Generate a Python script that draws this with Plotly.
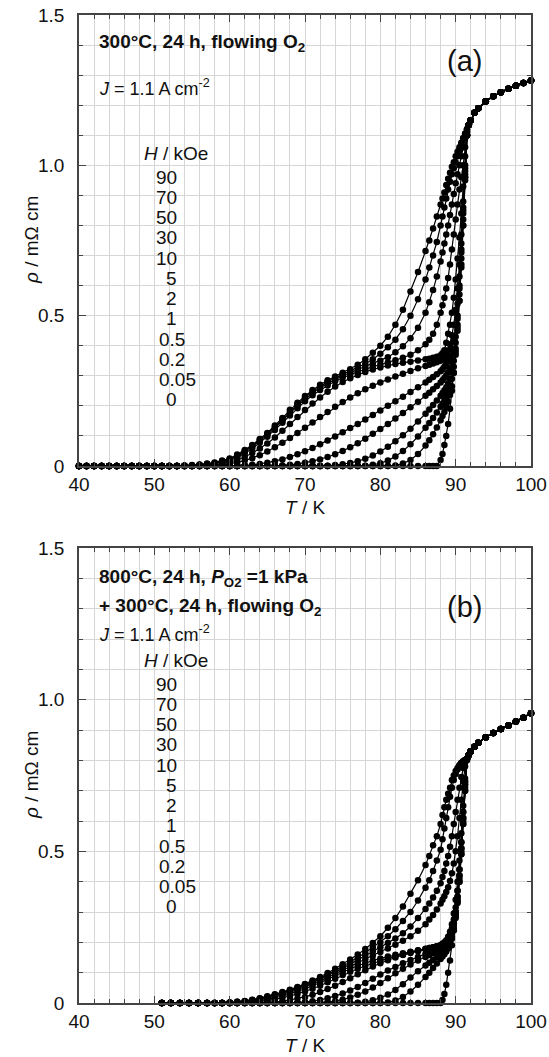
import plotly.graph_objects as go

# ---------------- data: panel (a) ----------------
T_a = [40,41,42,43,44,45,46,47,48,49,50,51,52,53,54,55,56,57,58,
       59,60,61,62,63,64,65,66,67,68,69,70,
       71,72,73,74,75,76,77,78,79,80,
       81,82,83,84,85,86,
       86.5,87,87.5,
       88,88.25,88.5,88.75,89,89.25,89.5,89.75,
       90,90.25,90.5,90.75,91,91.25,91.5]
Tn_a = [91.75,92,92.5,93,94,95,96,97,98,99,100]
rn_a = [1.135,1.15,1.175,1.19,1.213,1.23,1.243,1.255,1.265,1.274,1.282]

a_90 = [0,0,0,0,0,0,0,0,0,0,0,0,0,0,0.002,0.003,0.005,0.008,0.012,
        0.018,0.025,0.038,0.053,0.07,0.09,0.11,0.135,0.16,0.187,0.21,0.233,
        0.253,0.27,0.285,0.298,0.31,0.322,0.337,0.355,0.377,0.40,
        0.43,0.47,0.52,0.58,0.645,0.715,
        0.75,0.79,0.83,
        0.87,0.89,0.91,0.935,0.955,0.975,0.995,1.01,
        1.03,1.045,1.06,1.075,1.09,1.105,1.12]
a_70 = [0,0,0,0,0,0,0,0,0,0,0,0,0,0,0.001,0.002,0.004,0.007,0.01,
        0.016,0.023,0.035,0.05,0.067,0.087,0.107,0.13,0.155,0.18,0.205,0.228,
        0.248,0.265,0.28,0.293,0.305,0.316,0.328,0.34,0.355,0.373,
        0.395,0.42,0.455,0.5,0.555,0.62,
        0.66,0.70,0.745,
        0.80,0.83,0.86,0.89,0.92,0.945,0.97,0.99,
        1.01,1.03,1.05,1.07,1.09,1.105,1.12]
a_50 = [0,0,0,0,0,0,0,0,0,0,0,0,0,0,0.001,0.002,0.003,0.006,0.009,
        0.014,0.021,0.032,0.047,0.064,0.083,0.103,0.126,0.15,0.175,0.2,0.222,
        0.242,0.26,0.275,0.288,0.3,0.31,0.32,0.33,0.34,0.35,
        0.362,0.378,0.398,0.425,0.46,0.51,
        0.545,0.585,0.63,
        0.68,0.71,0.74,0.77,0.8,0.835,0.87,0.905,
        0.94,0.97,1.0,1.03,1.06,1.09,1.115]
a_30 = [0,0,0,0,0,0,0,0,0,0,0,0,0,0,0,0.001,0.002,0.004,0.007,
        0.012,0.018,0.028,0.042,0.058,0.077,0.097,0.12,0.144,0.168,0.192,0.215,
        0.235,0.253,0.268,0.282,0.294,0.304,0.313,0.322,0.33,0.337,
        0.344,0.352,0.36,0.37,0.385,0.405,
        0.42,0.44,0.47,
        0.51,0.535,0.56,0.59,0.625,0.67,0.72,0.77,
        0.82,0.87,0.92,0.96,1.0,1.06,1.11]
a_10 = [0,0,0,0,0,0,0,0,0,0,0,0,0,0,0,0,0.001,0.002,0.004,
        0.008,0.012,0.02,0.03,0.043,0.058,0.075,0.095,0.117,0.14,0.163,0.186,
        0.208,0.228,0.247,0.264,0.279,0.292,0.303,0.313,0.321,0.328,
        0.334,0.339,0.343,0.347,0.351,0.355,
        0.357,0.36,0.363,
        0.368,0.375,0.385,0.41,0.44,0.47,0.51,0.56,
        0.62,0.69,0.76,0.84,0.93,1.03,1.11]
a_5 = [0,0,0,0,0,0,0,0,0,0,0,0,0,0,0,0,0,0,0.002,
       0.004,0.007,0.012,0.018,0.026,0.036,0.048,0.062,0.077,0.093,0.11,0.127,
       0.145,0.163,0.18,0.197,0.213,0.228,0.242,0.255,0.267,0.278,
       0.288,0.298,0.307,0.316,0.325,0.333,
       0.337,0.341,0.345,
       0.35,0.355,0.36,0.37,0.385,0.405,0.435,0.47,
       0.52,0.59,0.67,0.77,0.88,1.0,1.1]
a_2 = [0,0,0,0,0,0,0,0,0,0,0,0,0,0,0,0,0,0,0,
       0,0,0,0.002,0.004,0.007,0.011,0.016,0.022,0.03,0.039,0.049,
       0.06,0.072,0.085,0.098,0.112,0.126,0.14,0.155,0.17,0.185,
       0.2,0.215,0.23,0.246,0.262,0.278,
       0.287,0.296,0.305,
       0.315,0.322,0.33,0.34,0.35,0.365,0.39,0.42,
       0.47,0.54,0.63,0.74,0.86,0.99,1.1]
a_1 = [0,0,0,0,0,0,0,0,0,0,0,0,0,0,0,0,0,0,0,
       0,0,0,0,0,0,0,0.001,0.002,0.004,0.007,0.011,
       0.016,0.022,0.03,0.039,0.05,0.062,0.076,0.091,0.107,0.123,
       0.14,0.158,0.176,0.195,0.214,0.234,
       0.244,0.255,0.266,
       0.278,0.285,0.293,0.302,0.312,0.325,0.345,0.375,
       0.43,0.5,0.6,0.72,0.85,0.98,1.1]
a_05 = [0,0,0,0,0,0,0,0,0,0,0,0,0,0,0,0,0,0,0,
        0,0,0,0,0,0,0,0,0,0,0,0,
        0,0,0.001,0.003,0.006,0.01,0.016,0.024,0.035,0.048,
        0.064,0.082,0.102,0.124,0.148,0.174,
        0.188,0.203,0.218,
        0.234,0.243,0.252,0.262,0.274,0.29,0.315,0.35,
        0.41,0.49,0.59,0.71,0.84,0.97,1.1]
a_02 = [0,0,0,0,0,0,0,0,0,0,0,0,0,0,0,0,0,0,0,
        0,0,0,0,0,0,0,0,0,0,0,0,
        0,0,0,0,0,0,0,0.001,0.004,0.009,
        0.018,0.032,0.05,0.072,0.098,0.127,
        0.143,0.16,0.178,
        0.197,0.207,0.218,0.23,0.244,0.262,0.29,0.33,
        0.39,0.47,0.57,0.69,0.82,0.96,1.1]
a_005 = [0,0,0,0,0,0,0,0,0,0,0,0,0,0,0,0,0,0,0,
         0,0,0,0,0,0,0,0,0,0,0,0,
         0,0,0,0,0,0,0,0,0,0,
         0,0.002,0.008,0.02,0.04,0.068,
         0.086,0.106,0.128,
         0.152,0.166,0.18,0.196,0.214,0.236,0.265,0.31,
         0.37,0.45,0.55,0.67,0.8,0.95,1.1]
a_0 = [0,0,0,0,0,0,0,0,0,0,0,0,0,0,0,0,0,0,0,
       0,0,0,0,0,0,0,0,0,0,0,0,
       0,0,0,0,0,0,0,0,0,0,
       0,0,0,0,0,0,
       0,0,0,
       0.02,0.04,0.07,0.1,0.14,0.19,0.25,0.31,
       0.38,0.46,0.55,0.66,0.8,0.96,1.1]

# ---------------- data: panel (b) ----------------
T_b = [51,52.2,53.4,54.6,55.8,57,
       58,59,60,61,62,63,64,65,66,67,68,69,70,
       71,72,73,74,75,76,77,78,79,80,
       81,82,83,84,85,86,
       86.5,87,87.5,
       88,88.25,88.5,88.75,89,89.25,89.5,89.75,
       90,90.25,90.5,90.75,91,91.25,91.5]
Tn_b = [91.75,92,92.5,93,94,95,96,97,98,99,100]
rn_b = [0.818,0.83,0.845,0.858,0.876,0.89,0.903,0.915,0.928,0.94,0.955]

b_90 = [0,0,0,0,0,0,
        0,0,0.002,0.004,0.007,0.011,0.016,0.022,0.029,0.036,0.044,0.053,0.063,
        0.074,0.086,0.099,0.113,0.128,0.143,0.16,0.178,0.198,0.22,
        0.248,0.28,0.318,0.36,0.405,0.455,
        0.485,0.52,0.55,
        0.59,0.62,0.645,0.67,0.69,0.71,0.735,0.75,
        0.765,0.775,0.785,0.792,0.797,0.801,0.805]
b_70 = [0,0,0,0,0,0,
        0,0,0.002,0.004,0.006,0.01,0.015,0.021,0.027,0.034,0.042,0.051,0.061,
        0.071,0.082,0.094,0.107,0.121,0.135,0.15,0.166,0.183,0.2,
        0.22,0.243,0.27,0.3,0.338,0.38,
        0.405,0.435,0.47,
        0.505,0.54,0.575,0.61,0.645,0.68,0.71,0.735,
        0.755,0.77,0.782,0.79,0.797,0.801,0.805]
b_50 = [0,0,0,0,0,0,
        0,0,0.001,0.003,0.005,0.009,0.013,0.019,0.025,0.032,0.04,0.048,0.058,
        0.068,0.079,0.09,0.102,0.115,0.128,0.142,0.156,0.17,0.184,
        0.198,0.213,0.23,0.252,0.28,0.31,
        0.328,0.348,0.37,
        0.395,0.415,0.435,0.46,0.485,0.515,0.55,0.59,
        0.63,0.67,0.71,0.745,0.775,0.795,0.805]
b_30 = [0,0,0,0,0,0,
        0,0,0.001,0.002,0.004,0.007,0.011,0.016,0.022,0.029,0.036,0.044,0.053,
        0.063,0.073,0.084,0.096,0.108,0.12,0.132,0.144,0.156,0.168,
        0.18,0.192,0.205,0.22,0.238,0.26,
        0.275,0.29,0.308,
        0.328,0.34,0.352,0.366,0.382,0.402,0.428,0.46,
        0.5,0.55,0.61,0.67,0.73,0.78,0.805]
b_10 = [0,0,0,0,0,0,
        0,0,0,0.001,0.003,0.005,0.008,0.012,0.017,0.023,0.03,0.038,0.047,
        0.057,0.067,0.078,0.09,0.102,0.113,0.123,0.132,0.14,0.147,
        0.153,0.159,0.164,0.169,0.174,0.179,
        0.181,0.184,0.187,
        0.191,0.195,0.2,0.207,0.218,0.235,0.26,0.295,
        0.34,0.4,0.47,0.56,0.65,0.74,0.805]
b_5 = [0,0,0,0,0,0,
       0,0,0,0,0.001,0.003,0.005,0.008,0.012,0.017,0.023,0.03,0.038,
       0.047,0.057,0.068,0.08,0.092,0.103,0.113,0.122,0.131,0.139,
       0.147,0.154,0.161,0.167,0.173,0.178,
       0.181,0.184,0.187,
       0.19,0.193,0.197,0.203,0.212,0.226,0.246,0.275,
       0.315,0.37,0.44,0.53,0.63,0.73,0.805]
b_2 = [0,0,0,0,0,0,
       0,0,0,0,0,0,0,0.001,0.003,0.006,0.01,0.015,0.02,
       0.027,0.036,0.046,0.057,0.069,0.082,0.095,0.108,0.12,0.131,
       0.141,0.15,0.158,0.165,0.171,0.176,
       0.179,0.182,0.185,
       0.188,0.191,0.195,0.2,0.208,0.22,0.238,0.265,
       0.3,0.35,0.42,0.51,0.61,0.72,0.805]
b_1 = [0,0,0,0,0,0,
       0,0,0,0,0,0,0,0,0,0,0,0.001,0.003,
       0.006,0.01,0.016,0.023,0.031,0.041,0.053,0.066,0.08,0.094,
       0.107,0.119,0.131,0.142,0.152,0.162,
       0.167,0.172,0.177,
       0.182,0.186,0.19,0.196,0.205,0.218,0.237,0.263,
       0.3,0.35,0.42,0.51,0.61,0.72,0.805]
b_05 = [0,0,0,0,0,0,
        0,0,0,0,0,0,0,0,0,0,0,0,0,
        0,0.001,0.003,0.006,0.011,0.018,0.027,0.038,0.051,0.066,
        0.082,0.098,0.113,0.127,0.14,0.152,
        0.158,0.164,0.17,
        0.176,0.18,0.185,0.19,0.198,0.21,0.228,0.255,
        0.29,0.34,0.41,0.5,0.6,0.71,0.805]
b_02 = [0,0,0,0,0,0,
        0,0,0,0,0,0,0,0,0,0,0,0,0,
        0,0,0,0,0,0,0.001,0.004,0.009,0.017,
        0.028,0.043,0.062,0.084,0.105,0.124,
        0.133,0.142,0.151,
        0.16,0.166,0.172,0.179,0.188,0.2,0.218,0.245,
        0.285,0.335,0.4,0.49,0.59,0.7,0.805]
b_005 = [0,0,0,0,0,0,
         0,0,0,0,0,0,0,0,0,0,0,0,0,
         0,0,0,0,0,0,0,0,0,0,
         0.002,0.008,0.02,0.038,0.06,0.086,
         0.1,0.115,0.13,
         0.145,0.153,0.161,0.17,0.18,0.193,0.212,0.24,
         0.28,0.33,0.4,0.49,0.59,0.7,0.805]
b_0 = [0,0,0,0,0,0,
       0,0,0,0,0,0,0,0,0,0,0,0,0,
       0,0,0,0,0,0,0,0,0,0,
       0,0,0,0,0,0,
       0,0,0,
       0,0.01,0.03,0.06,0.1,0.14,0.19,0.24,
       0.3,0.37,0.44,0.53,0.63,0.73,0.8]

field_labels = ["90", "70", "50", "30", "10", "5", "2", "1", "0.5", "0.2", "0.05", "0"]
curves_a = [a_90, a_70, a_50, a_30, a_10, a_5, a_2, a_1, a_05, a_02, a_005, a_0]
curves_b = [b_90, b_70, b_50, b_30, b_10, b_5, b_2, b_1, b_05, b_02, b_005, b_0]

x_ticks = [40, 50, 60, 70, 80, 90, 100]
y_ticks = [0, 0.5, 1.0, 1.5]
y_ticktext = ["0", "0.5", "1.0", "1.5"]

# ---------------- figure ----------------
W, H = 549, 1057
ML, MR, MT, MB = 79, 18, 15, 54
PW, PH = W - ML - MR, H - MT - MB
FONT = "Liberation Sans, Arial, Helvetica, sans-serif"
AX = "#444444"
GRID = "#d6d6d6"
FS = 19


def px(x, y):
    return (x - ML) / PW, (H - MB - y) / PH


fig = go.Figure()
for curves, Tg, Tn, rn, xa, ya in [(curves_a, T_a, Tn_a, rn_a, "x", "y"),
                                   (curves_b, T_b, Tn_b, rn_b, "x2", "y2")]:
    for lab, r in zip(field_labels, curves):
        fig.add_trace(go.Scatter(
            x=Tg + Tn, y=r + rn, mode="lines+markers", name=lab + " kOe",
            line=dict(color="black", width=1.2),
            marker=dict(color="black", size=6.5),
            cliponaxis=False, xaxis=xa, yaxis=ya, showlegend=False))


def xaxis(anchor):
    return dict(anchor=anchor, range=[40, 100], tickmode="array", tickvals=x_ticks,
                ticks="inside", ticklen=7, tickwidth=1, tickcolor=AX,
                showline=True, linecolor=AX, linewidth=1.5, mirror="allticks",
                showgrid=True, gridcolor=GRID, gridwidth=1, zeroline=False,
                minor=dict(tickmode="linear", tick0=40, dtick=2, ticks="inside",
                           ticklen=4, tickcolor=AX, showgrid=True,
                           gridcolor=GRID, gridwidth=1),
                tickfont=dict(family=FONT, size=FS, color="#111"),
                ticklabelstandoff=0, fixedrange=True)


def yaxis(anchor, domain):
    return dict(anchor=anchor, domain=domain, range=[0, 1.5], tickmode="array",
                tickvals=y_ticks, ticktext=y_ticktext,
                ticks="inside", ticklen=7, tickwidth=1, tickcolor=AX,
                showline=True, linecolor=AX, linewidth=1.5, mirror="allticks",
                showgrid=True, gridcolor=GRID, gridwidth=1, zeroline=False,
                minor=dict(tickmode="linear", tick0=0, dtick=0.1, ticks="inside",
                           ticklen=4, tickcolor=AX, showgrid=True,
                           gridcolor=GRID, gridwidth=1),
                tickfont=dict(family=FONT, size=FS, color="#111"),
                ticklabelstandoff=9, fixedrange=True)


top_dom = [1 - (466 - MT) / PH, 1]
bot_dom = [0, (H - MB - 548) / PH]

annotations = []


def txt(text, x, y, size=FS, xanchor="left", bold=False, angle=0):
    xp, yp = px(x, y)
    annotations.append(dict(text=("<b>%s</b>" % text) if bold else text,
                            x=xp, y=yp, xref="paper", yref="paper",
                            xanchor=xanchor, yanchor="middle", showarrow=False,
                            textangle=angle,
                            font=dict(family=FONT, size=size, color="#111")))


# panel (a)
txt("300°C, 24 h, flowing O<sub>2</sub>", 97, 43, size=19, bold=True)
txt("<i>J</i> = 1.1 A cm<sup>-2</sup>", 97, 87, size=18)
txt("(a)", 445, 61, size=29)
# panel (b)
txt("800°C, 24 h, <i>P</i><sub>O2</sub> =1 kPa", 97, 578, size=19, bold=True)
txt("+ 300°C, 24 h, flowing O<sub>2</sub>", 97, 607, size=19, bold=True)
txt("<i>J</i> = 1.1 A cm<sup>-2</sup>", 97, 633, size=18)
txt("(b)", 445, 607, size=29)

for y0 in (153, 660):
    txt("<i>H</i> / kOe", 142, y0, size=FS)
    for i, lab in enumerate(field_labels):
        yy = y0 + 24 + 20.25 * i
        if "." in lab:
            txt(lab, 157, yy, size=FS, xanchor="left")
        else:
            txt(lab, 179, yy, size=FS, xanchor="right")

# axis titles
for yc, xt in ((240, 507), (775, 1045)):
    txt("<i>ρ</i> / mΩ cm", 32, yc, size=FS, xanchor="center", angle=-90)
    txt("<i>T</i> / K", 305, xt, size=FS, xanchor="center")

fig.update_layout(
    width=W, height=H,
    margin=dict(l=ML, r=MR, t=MT, b=MB, autoexpand=False),
    paper_bgcolor="white", plot_bgcolor="white",
    xaxis=xaxis("y"), yaxis=yaxis("x", top_dom),
    xaxis2=xaxis("y2"), yaxis2=yaxis("x2", bot_dom),
    annotations=annotations, showlegend=False,
)

fig.write_html("out.html")
